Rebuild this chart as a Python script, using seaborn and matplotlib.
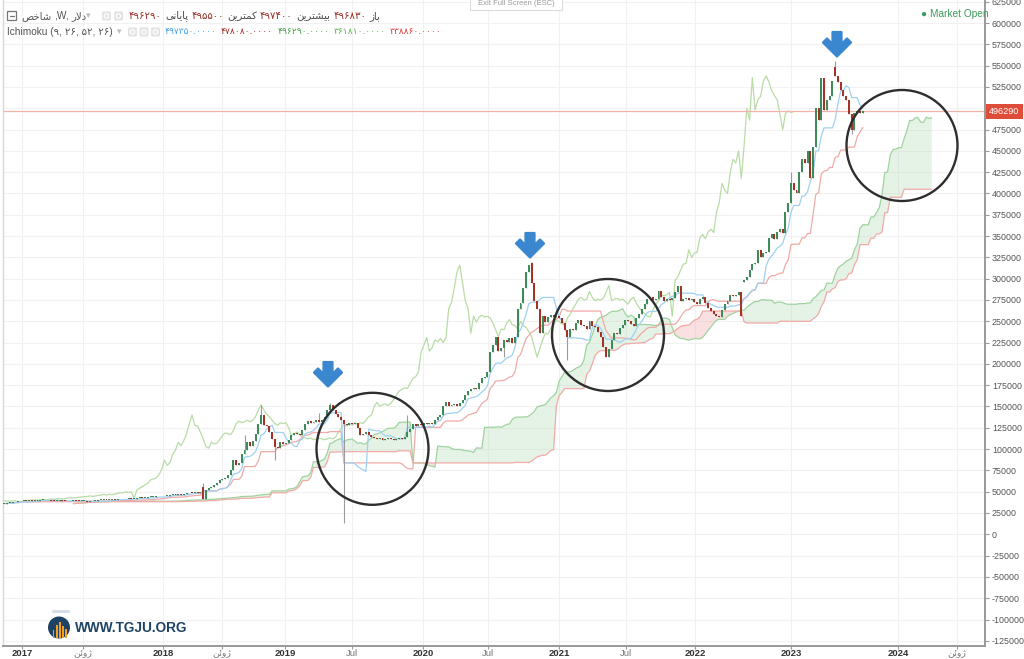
import matplotlib

matplotlib.use("Agg")
import matplotlib.pyplot as plt
import numpy as np
import pandas as pd
import seaborn as sns
from matplotlib.patches import Circle, FancyBboxPatch, Polygon, Rectangle
from matplotlib.transforms import blended_transform_factory

# weekly closes, thousands of rials (one value per bar, Jan 2017 -> Sep 2023)
CLOSE_K = [
    36, 36.5, 37, 37.5, 38, 38.5,
    39, 39.5, 39, 40, 39.5, 40,
    39.5, 40, 40.5, 39.8, 40, 39.5, 39, 39.5, 40, 39.5, 39, 38.5, 39, 39.5, 39, 38.8, 39.2, 39.5,
    37.5, 38.5, 39, 39.5, 40,
    40, 40.5, 40, 40.5, 41, 40.5, 41, 41.5, 41, 41.5, 42, 41.5,
    42, 42.5, 43, 42.5, 43, 43.5, 44,
    44, 44.5, 45, 44.5, 45, 45.5,
    46, 47, 46, 47, 46.5, 47, 48,
    49, 48.5, 50, 49, 50,
    42,
    52, 54, 56, 58, 60, 64, 65, 66,
    70, 76, 87, 81, 84,
    94, 99, 108, 104, 110, 118, 130, 140, 128, 127, 120, 112, 103, 101,
    108, 106, 107, 111, 116, 119, 118, 117, 122, 130, 133, 131, 132, 134, 132, 134, 138, 146,
    152, 146, 141, 138, 134, 130, 128, 131, 130, 131, 125, 116, 118, 120, 117, 114, 113,
    112, 113, 111, 112, 113, 112, 111, 112, 113, 112, 114,
    120, 124, 129, 127, 130, 128, 131, 129, 131, 130, 134, 138, 140, 150, 155, 150, 152, 153, 151, 154,
    158, 163, 168, 170, 172, 171, 177, 183, 185, 190, 214, 222, 231, 215, 219, 228, 226, 230, 225, 231,
    265, 272, 289, 308, 316, 295, 274, 265, 236, 256, 249, 255, 257, 255, 256, 254,
    248, 240, 232, 241, 240, 248, 252, 246, 245, 241, 250, 245, 243, 238, 232, 220, 208,
    218, 228, 236, 235, 242, 246, 251, 250, 247, 245, 254, 258, 265, 270, 276, 278, 275, 276, 285, 278,
    274, 276, 275, 277, 284, 292, 274, 276, 277, 275, 276, 273, 270, 276, 278, 271, 266, 262, 259, 256, 255,
    263, 270, 274, 281, 280, 281, 284, 256, 298, 302, 310, 317, 318, 334, 325, 330, 331,
    348, 352, 347, 355, 358, 354, 378, 389, 412, 404, 400, 425, 440, 436, 450, 418,
    455, 500, 486, 536, 498, 510, 514, 532, 538, 531, 521, 515, 510, 493, 475, 494, 497, 495, 496.29,
]
# bars whose open is not the previous close
GAP_OPEN_K = {72: 56, 191: 318, 268: 296, 301: 549}
# visible wicks: bar -> (high, low)
WICKS_K = {
    72: (60, None), 87: (117, None), 93: (152, None), 98: (None, 87),
    114: (142, None), 118: (154, None), 123: (None, 13.6), 146: (140, None),
    181: (None, 208), 191: (320, None), 204: (None, 204), 285: (425, None),
    301: (555, None), 307: (None, 470),
}
LAST_PRICE = 496290

X_TICK_POS = [6.3, 28.5, 57.5, 78.9, 101.7, 125.9, 151.7, 175.2, 201.1, 225.2, 250.2, 285, 323.7, 345]
X_TICK_LABELS = ["2017", "ژوئن", "2018", "ژوئن", "2019", "Jul", "2020", "Jul",
                 "2021", "Jul", "2022", "2023", "2024", "ژوئن"]
Y_TICKS = list(range(-125000, 625001, 25000))

TITLE_WORDS = ["شاخص", ",W,", "دلار"]
OHLC_LABELS = ["باز", "بیشترین", "کمترین", "پایانی"]
OHLC_VALUES = ["۴۹۶۸۳۰", "۴۹۷۴۰۰", "۴۹۵۵۰۰", "۴۹۶۲۹۰"]
ICHI_TITLE = "Ichimoku (۹, ۲۶, ۵۲, ۲۶)"
ICHI_VALUES = ["۴۹۷۳۵۰.۰۰۰۰", "۴۷۸۰۸۰.۰۰۰۰", "۴۹۶۲۹۰.۰۰۰۰", "۳۶۱۸۱۰.۰۰۰۰", "۳۳۸۸۶۰.۰۰۰۰"]
ICHI_COLORS = ["#42a5f5", "#9c2b23", "#43a047", "#5fae4f", "#e53935"]

# Arabic presentation forms: isolated, final, initial, medial
FORMS = {
    "ا": ("\ufe8d", "\ufe8e", None, None),
    "ب": ("\ufe8f", "\ufe90", "\ufe91", "\ufe92"),
    "پ": ("\ufb56", "\ufb57", "\ufb58", "\ufb59"),
    "ت": ("\ufe95", "\ufe96", "\ufe97", "\ufe98"),
    "خ": ("\ufea5", "\ufea6", "\ufea7", "\ufea8"),
    "د": ("\ufea9", "\ufeaa", None, None),
    "ر": ("\ufead", "\ufeae", None, None),
    "ز": ("\ufeaf", "\ufeb0", None, None),
    "ژ": ("\ufb8a", "\ufb8b", None, None),
    "ش": ("\ufeb5", "\ufeb6", "\ufeb7", "\ufeb8"),
    "ص": ("\ufeb9", "\ufeba", "\ufebb", "\ufebc"),
    "ک": ("\ufb8e", "\ufb8f", "\ufb90", "\ufb91"),
    "ل": ("\ufedd", "\ufede", "\ufedf", "\ufee0"),
    "م": ("\ufee1", "\ufee2", "\ufee3", "\ufee4"),
    "ن": ("\ufee5", "\ufee6", "\ufee7", "\ufee8"),
    "و": ("\ufeed", "\ufeee", None, None),
    "ئ": ("\ufe89", "\ufe8a", "\ufe8b", "\ufe8c"),
    "ی": ("\ufbfc", "\ufbfd", "\ufbfe", "\ufbff"),
}


def shape(word):
    """Join Persian letters and put them in visual (left-to-right) order."""
    if not any(ch in FORMS for ch in word):
        return word
    glyphs, prev_joins, k = [], False, 0
    while k < len(word):
        ch = word[k]
        if ch == "ل" and k + 1 < len(word) and word[k + 1] == "ا":
            glyphs.append("\ufefc" if prev_joins else "\ufefb")
            prev_joins, k = False, k + 2
            continue
        iso, fin, ini, med = FORMS[ch]
        nxt = word[k + 1] if k + 1 < len(word) else None
        next_joins = ini is not None and nxt in FORMS
        if prev_joins and next_joins:
            glyphs.append(med)
        elif prev_joins:
            glyphs.append(fin)
        elif next_joins:
            glyphs.append(ini)
        else:
            glyphs.append(iso)
        prev_joins, k = next_joins, k + 1
    return "".join(reversed(glyphs))


sns.set_theme(style="white")
plt.rcParams["font.family"] = ["Liberation Sans", "DejaVu Sans"]

# ---- candles ----
close = np.array(CLOSE_K) * 1000.0
open_ = np.r_[close[0], close[:-1]]
for i, v in GAP_OPEN_K.items():
    open_[i] = v * 1000.0
high = np.maximum(open_, close)
low = np.minimum(open_, close)
for i, (h, l) in WICKS_K.items():
    if h is not None:
        high[i] = h * 1000.0
    if l is not None:
        low[i] = l * 1000.0
n = len(close)
idx = np.arange(n)

# ---- ichimoku (9, 26, 52, 26) ----
hs, ls = pd.Series(high), pd.Series(low)
tenkan = (hs.rolling(9, min_periods=1).max() + ls.rolling(9, min_periods=1).min()) / 2
kijun = (hs.rolling(26, min_periods=1).max() + ls.rolling(26, min_periods=1).min()) / 2
span_a = ((tenkan + kijun) / 2).values
span_b = ((hs.rolling(52, min_periods=1).max() + ls.rolling(52, min_periods=1).min()) / 2).values
lead_x = idx + 25
lag_x = idx - 25

fig = plt.figure(figsize=(10.24, 6.59), dpi=100)
ax = fig.add_axes([3 / 1024, 1 - 646 / 659, 982 / 1024, 646 / 659])

ax.fill_between(lead_x, span_a, span_b, where=span_a >= span_b, interpolate=True,
                color="#a5d6a7", alpha=0.28, lw=0, zorder=1)
ax.fill_between(lead_x, span_a, span_b, where=span_a < span_b, interpolate=True,
                color="#ef9a9a", alpha=0.3, lw=0, zorder=1)
lines = [
    (lead_x, span_a, "#9fd39f"),
    (lead_x, span_b, "#f2aaa6"),
    (lag_x, close, "#b9dca6"),
    (idx, kijun.values, "#f0aaa6"),
    (idx, tenkan.values, "#9fd0f3"),
]
for xs, ys, col in lines:
    sns.lineplot(x=xs, y=ys, ax=ax, color=col, lw=0.9, legend=False, zorder=2)

up = close >= open_
body_col = np.where(up, "#3f8a5a", "#a53325")
ax.vlines(idx, low, high, color="#9c9c9c", lw=0.8, zorder=3)
ax.bar(idx, np.maximum(np.abs(close - open_), 900), bottom=np.minimum(open_, close),
       width=0.72, color=body_col, lw=0, zorder=4)

ax.axhline(LAST_PRICE, color="#f2b3aa", lw=0.9, zorder=2)

ax.set_xlim(-0.5, -0.5 + 982 / 2.76)
ax.set_ylim(-131100, 627100)
# the 500000 label sits under the last-price tag
ax.set_yticks(Y_TICKS, labels=["" if v == 500000 else str(v) for v in Y_TICKS])
ax.yaxis.tick_right()
ax.set_xticks(X_TICK_POS, labels=[shape(t) for t in X_TICK_LABELS])
for lab in ax.get_xticklabels():
    if lab.get_text().isdigit():
        lab.set_fontweight("bold")
        lab.set_color("#333333")
    else:
        lab.set_color("#777777")
ax.tick_params(axis="y", which="both", right=True, length=3, width=0.8, color="#999999",
               labelsize=6.4, labelcolor="#555555", pad=2)
ax.tick_params(axis="x", bottom=True, length=2, width=0.8, color="#999999", labelsize=6.8, pad=0.5)
ax.grid(True, color="#f1f1f1", lw=0.8)
ax.set_axisbelow(True)
ax.spines["top"].set_visible(False)
ax.spines["left"].set_color("#d8d8d8")
ax.spines["left"].set_linewidth(1)
for side in ["right", "bottom"]:
    ax.spines[side].set_color("#999999")
    ax.spines[side].set_linewidth(1.4)
ax.set_xlabel("")
ax.set_ylabel("")

tr = blended_transform_factory(ax.transAxes, ax.transData)
ax.text(1.004, LAST_PRICE, str(LAST_PRICE), transform=tr, ha="left", va="center",
        color="white", fontsize=6.6, zorder=10, clip_on=False,
        bbox=dict(boxstyle="square,pad=0.35", fc="#de4c3a", ec="none"))

# ---- overlay in pixel coordinates ----
ov = fig.add_axes([0, 0, 1, 1], zorder=5)
ov.set_xlim(0, 1024)
ov.set_ylim(659, 0)
ov.axis("off")
ov.patch.set_alpha(0)
renderer = fig.canvas.get_renderer()


def put_tokens(x, y, tokens, size=7.3, gap=3.5):
    for text, color in tokens:
        t = ov.text(x, y, text, color=color, fontsize=size, ha="left", va="center")
        x += t.get_window_extent(renderer=renderer).width + gap
    return x


def icon(x, y, w=9):
    ov.add_patch(FancyBboxPatch((x, y - w / 2), w, w, boxstyle="round,pad=0,rounding_size=1.5",
                                fc="#e3e3e3", ec="none"))
    ov.add_patch(Circle((x + w / 2, y), 2.2, fc="none", ec="white", lw=0.9))


# row 1
ov.add_patch(Rectangle((7, 11), 9, 9, fc="white", ec="#777777", lw=0.9))
ov.plot([9.5, 13.5], [15.5, 15.5], color="#777777", lw=0.9)
put_tokens(21, 16, [(shape(w), "#555555") for w in TITLE_WORDS], gap=2.5)
ov.text(86, 16, "▾", color="#bbbbbb", fontsize=6.5, ha="left", va="center")
icon(102, 16)
icon(114, 16)
row1 = []
for lab, val in reversed(list(zip(OHLC_LABELS, OHLC_VALUES))):
    row1 += [(val, "#9a2f27"), (shape(lab), "#4a4a4a")]
put_tokens(129, 16, row1, gap=3.2)

# row 2
ov.text(7, 32, ICHI_TITLE, color="#555555", fontsize=7.3, ha="left", va="center")
ov.text(117, 32, "▾", color="#bbbbbb", fontsize=6.5, ha="left", va="center")
for xi in [128, 139.5, 151]:
    icon(xi, 32)
put_tokens(165, 32, list(zip(ICHI_VALUES, ICHI_COLORS)), size=6.6, gap=4)

# top centre / top right
ov.add_patch(Rectangle((470, -3), 92, 13, fc="white", ec="#dddddd", lw=0.8))
ov.text(516, 3.5, "Exit Full Screen (ESC)", color="#9a9a9a", fontsize=5.5, ha="center", va="center")
ov.text(921, 14, "● Market Open", color="#3d9a5e", fontsize=7.3, ha="left", va="center")

# circles and arrows
for cx, cy, r in [(372.5, 448.8, 56), (608, 335, 56), (902, 145.5, 55.5)]:
    ov.add_patch(Circle((cx, cy), r, fc="none", ec="#2e2e2e", lw=1.7))

arrow_shape = [(-4.5, 0), (4.5, 0), (4.5, 12), (10, 6.5), (14, 10.5), (0, 24.5),
               (-14, 10.5), (-10, 6.5), (-4.5, 12)]
for ax_x, top in [(328, 362), (530, 233), (837, 32)]:
    pts = [(ax_x + dx, top + dy) for dx, dy in arrow_shape]
    ov.add_patch(Polygon(pts, closed=True, fc="#3a86cf", ec="#3a86cf", lw=1.6, joinstyle="round"))

# logo
ov.plot([53, 68], [611, 611], color="#d5dde6", lw=2.2, solid_capstyle="round")
ov.add_patch(Circle((59, 627.5), 11, fc="#1d4263", ec="none"))
for bx, bh in zip([52.5, 55.7, 58.9, 62.1, 65.3], [8, 13, 16, 12, 9]):
    ov.add_patch(Rectangle((bx, 638 - bh), 1.8, bh, fc="#f5a01a", ec="none"))
ov.text(75, 628, "WWW.TGJU.ORG", color="#1d4263", fontsize=9.8, fontweight="bold",
        ha="left", va="center")

fig.savefig("out.png", dpi=100)
plt.close()
